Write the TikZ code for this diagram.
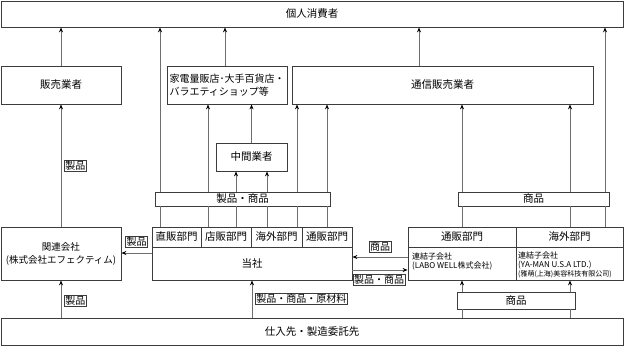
\documentclass[tikz,border=0pt]{standalone}
\usepackage{fontspec}
\setmainfont{Noto Sans CJK JP}
\definecolor{boxgray}{RGB}{60,60,60}
\definecolor{lnkgray}{RGB}{110,110,110}
\usetikzlibrary{arrows.meta,positioning,calc}

\begin{document}
\begin{tikzpicture}[x=1pt,y=-1pt,
  unit/.style={
    rectangle, draw=boxgray, line width=0.8pt,
    fill=white, inner sep=0pt,
    font=\fontsize{10.5}{12.5}\selectfont,
    align=center
  },
  dept/.style={unit, minimum height=20pt},
  tag/.style={rectangle, draw=boxgray, line width=0.5pt, fill=white,
    inner sep=1pt, font=\fontsize{10}{12}\selectfont},
  subtext/.style={anchor=west, align=left, inner sep=0pt,
    font=\fontsize{8}{9}\selectfont},
  conn/.style={-{Stealth[length=5pt,width=4pt,color=black]}, draw=lnkgray, line width=0.8pt},
  link/.style={draw=lnkgray, line width=0.8pt}
]
\useasboundingbox (0,0) rectangle (624,346);

% top and bottom rows
\node[unit, minimum width=622pt, minimum height=26pt] (cons) at (312,14) {個人消費者};
\node[unit, minimum width=622pt, minimum height=27pt] (supplier) at (312,331.5) {仕入先・製造委託先};

% sellers
\node[unit, minimum width=120pt, minimum height=38pt] (retail) at (61,85) {販売業者};
\node[unit, minimum width=120pt, minimum height=38pt, align=left,
  font=\fontsize{10}{13}\selectfont] (mass) at (227,85) {家電量販店･大手百貨店・\\バラエティショップ等};
\node[unit, minimum width=301pt, minimum height=38pt] (mail) at (442.5,85) {通信販売業者};
\node[unit, minimum width=71pt, minimum height=28pt] (middle) at (251.5,157) {中間業者};

% goods bars
\node[unit, minimum width=175pt, minimum height=14pt] (goodsbar) at (242.5,199) {製品・商品};
\node[unit, minimum width=151pt, minimum height=14pt] (itembar) at (533.5,199) {商品};
\node[unit, minimum width=118pt, minimum height=17pt] (itembarlow) at (516,300.5) {商品};

% group companies
\node[unit, minimum width=120pt, minimum height=53pt,
  font=\fontsize{9.5}{13}\selectfont] (affil) at (61,253.5) {関連会社\\(株式会社エフェクティム)};
\node[unit, minimum width=200pt, minimum height=53pt] (company) at (252,253.5) {};
\node[font=\fontsize{10.5}{12.5}\selectfont] (companytxt) at (252,264) {当社};

\node[dept, minimum width=49pt] (direct)    at (176.5,237) {直販部門};
\node[dept, minimum width=50pt] (store)     at (226,237)   {店販部門};
\node[dept, minimum width=51pt] (overseas)  at (276.5,237) {海外部門};
\node[dept, minimum width=50pt] (mailorder) at (327,237)   {通販部門};

\node[dept, minimum width=108pt] (submail) at (462,237)   {通販部門};
\node[dept, minimum width=107pt] (subintl) at (569.5,237) {海外部門};
\node[unit, minimum width=108pt, minimum height=33pt] (labowell) at (462,263.5) {};
\node[unit, minimum width=107pt, minimum height=33pt] (yaman) at (569.5,263.5) {};
\node[subtext] (labotxt) at (412,261.5) {連結子会社\\(LABO WELL株式会社)};
\node[subtext] (yamantxt) at (518,265) {連結子会社\\(YA-MAN U.S.A LTD.)\\{\fontsize{7}{9}\selectfont(雅萌(上海)美容科技有限公司)}};

% to consumers
\draw[conn] (retail.north) -- (retail.north |- cons.south);
\draw[conn] (mass.north -| 225,0) -- (cons.south -| 225,0);
\draw[conn] (mail.north -| 419,0) -- (cons.south -| 419,0);

% departments through goods bar
\draw[link] (direct.north -| 160,0) -- (goodsbar.south -| 160,0);
\draw[conn] (goodsbar.north -| 160,0) -- (cons.south -| 160,0);
\draw[link] (store.north -| 208,0) -- (goodsbar.south -| 208,0);
\draw[conn] (goodsbar.north -| 208,0) -- (mass.south -| 208,0);
\draw[link] (store.north -| 236,0) -- (goodsbar.south -| 236,0);
\draw[conn] (goodsbar.north -| 236,0) -- (middle.south -| 236,0);
\draw[link] (overseas.north -| 267,0) -- (goodsbar.south -| 267,0);
\draw[conn] (goodsbar.north -| 267,0) -- (middle.south -| 267,0);
\draw[link] (overseas.north -| 297,0) -- (goodsbar.south -| 297,0);
\draw[conn] (goodsbar.north -| 297,0) -- (mail.south -| 297,0);
\draw[link] (mailorder.north -| 327,0) -- (goodsbar.south -| 327,0);
\draw[conn] (goodsbar.north -| 327,0) -- (mail.south -| 327,0);
\draw[conn] (middle.north) -- (middle.north |- mass.south);

% subsidiaries through goods bar
\draw[link] (submail.north -| 462,0) -- (itembar.south -| 462,0);
\draw[conn] (itembar.north -| 462,0) -- (mail.south -| 462,0);
\draw[link] (subintl.north -| 570,0) -- (itembar.south -| 570,0);
\draw[conn] (itembar.north -| 570,0) -- (mail.south -| 570,0);
\draw[link] (subintl.north -| 605,0) -- (itembar.south -| 605,0);
\draw[conn] (itembar.north -| 605,0) -- (cons.south -| 605,0);

% flows between companies
\draw[conn] (affil.north) -- (affil.north |- retail.south);
\node[tag, anchor=west] (tagup) at (64,166) {製品};
\draw[conn] (company.west |- 0,253) -- (affil.east |- 0,253);
\node[tag] (tagaffil) at (136.5,242) {製品};
\draw[conn] (labowell.west |- 0,257) -- (company.east |- 0,257);
\node[tag] (tagitem) at (380,246.5) {商品};
\draw[conn] (company.east |- 0,270) -- (labowell.west |- 0,270);
\node[tag] (taggoods) at (379,279.5) {製品・商品};

% from suppliers
\draw[conn] (supplier.north -| affil.south) -- (affil.south);
\node[tag, anchor=west] (tagdown) at (64,301) {製品};
\draw[conn] (supplier.north -| 252,0) -- (company.south -| 252,0);
\node[tag, anchor=west] (tagraw) at (255,299) {製品・商品・原材料};
\draw[link] (supplier.north -| 462,0) -- (itembarlow.south -| 462,0);
\draw[conn] (itembarlow.north -| 462,0) -- (labowell.south -| 462,0);
\draw[link] (supplier.north -| 570,0) -- (itembarlow.south -| 570,0);
\draw[conn] (itembarlow.north -| 570,0) -- (yaman.south -| 570,0);
\end{tikzpicture}
\end{document}
